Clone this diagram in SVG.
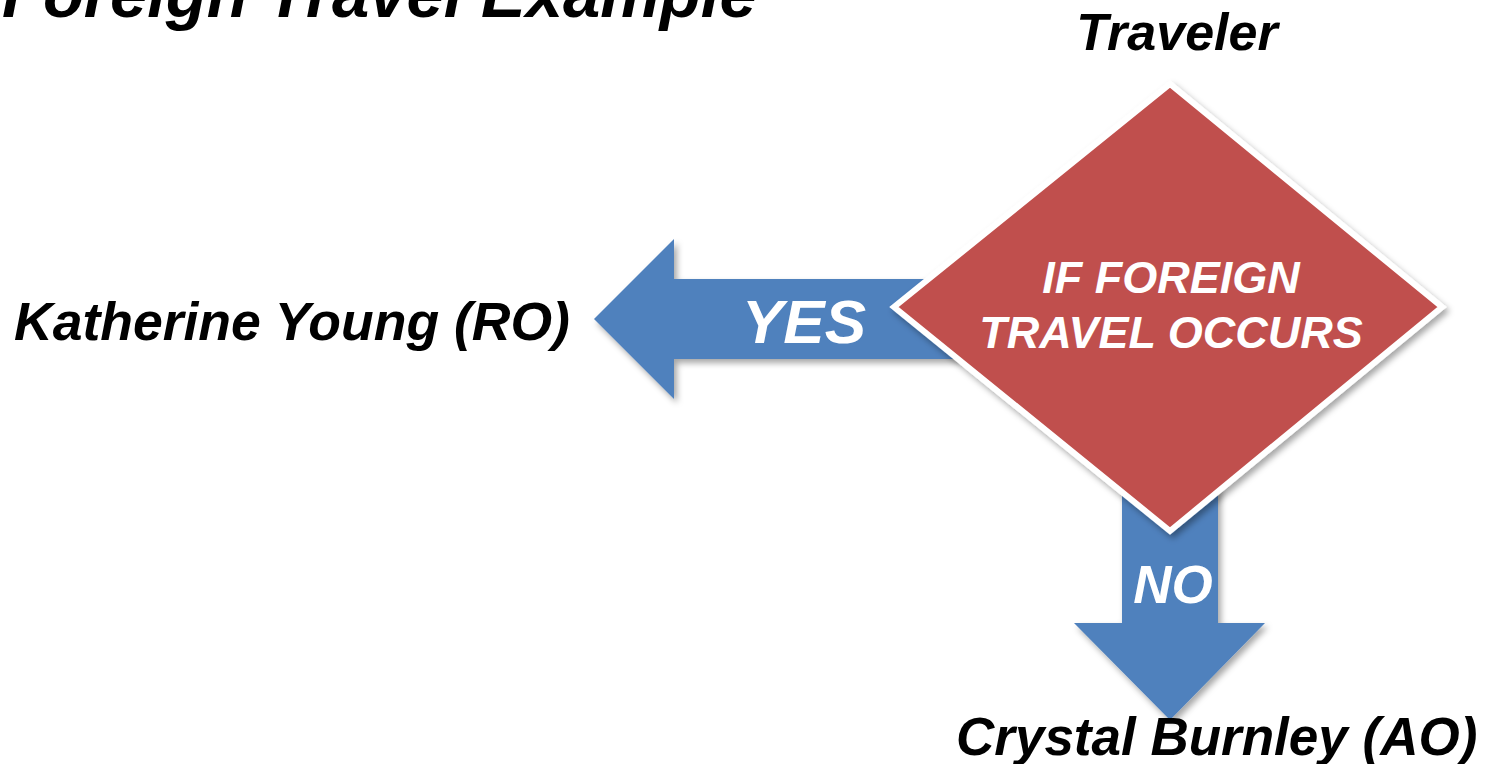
<svg xmlns="http://www.w3.org/2000/svg" width="1485" height="764" viewBox="0 0 1485 764">
<defs>
<style>
.t{font-family:"Liberation Sans",Arial,sans-serif;font-weight:bold;font-style:italic;}
.blk{fill:#000;}
.wht{fill:#fff;}
.arrow{fill:#4F81BD;filter:url(#sh);}
.dia{fill:#C0504D;stroke:#fff;stroke-width:6;stroke-linejoin:miter;filter:url(#sh);}
</style>
<filter id="sh" x="-10%" y="-10%" width="130%" height="130%">
<feDropShadow dx="3" dy="4" stdDeviation="3" flood-color="#000" flood-opacity="0.35"/>
</filter>
</defs>
<rect width="1485" height="764" fill="#fff"/>
<text class="t blk" x="2" y="17" font-size="67">Foreign Travel Example</text>
<g id="connectors">
<g id="yes-arrow">
<polygon class="arrow" points="594,319 674,239 674,279 960,279 960,359 674,359 674,399"/>
<text class="t wht" x="804" y="343" font-size="62" text-anchor="middle">YES</text>
</g>
<g id="no-arrow">
<polygon class="arrow" points="1122,470 1218,470 1218,623 1265,623 1170,720 1074,623 1122,623"/>
<text class="t wht" x="1173" y="603" font-size="53" text-anchor="middle">NO</text>
</g>
</g>
<g id="decision">
<polygon class="dia" points="1170,84 1442,307 1170,531 894,307"/>
<text class="t wht" font-size="45" text-anchor="middle"><tspan x="1171" y="293">IF FOREIGN</tspan><tspan x="1171" y="348">TRAVEL OCCURS</tspan></text>
</g>
<g id="traveler">
<text class="t blk" x="1177" y="50" font-size="52" text-anchor="middle">Traveler</text>
</g>
<g id="ro">
<text class="t blk" x="14" y="340" font-size="53.5">Katherine Young (RO)</text>
</g>
<g id="ao">
<text class="t blk" x="956" y="755" font-size="53">Crystal Burnley (AO)</text>
</g>
</svg>
